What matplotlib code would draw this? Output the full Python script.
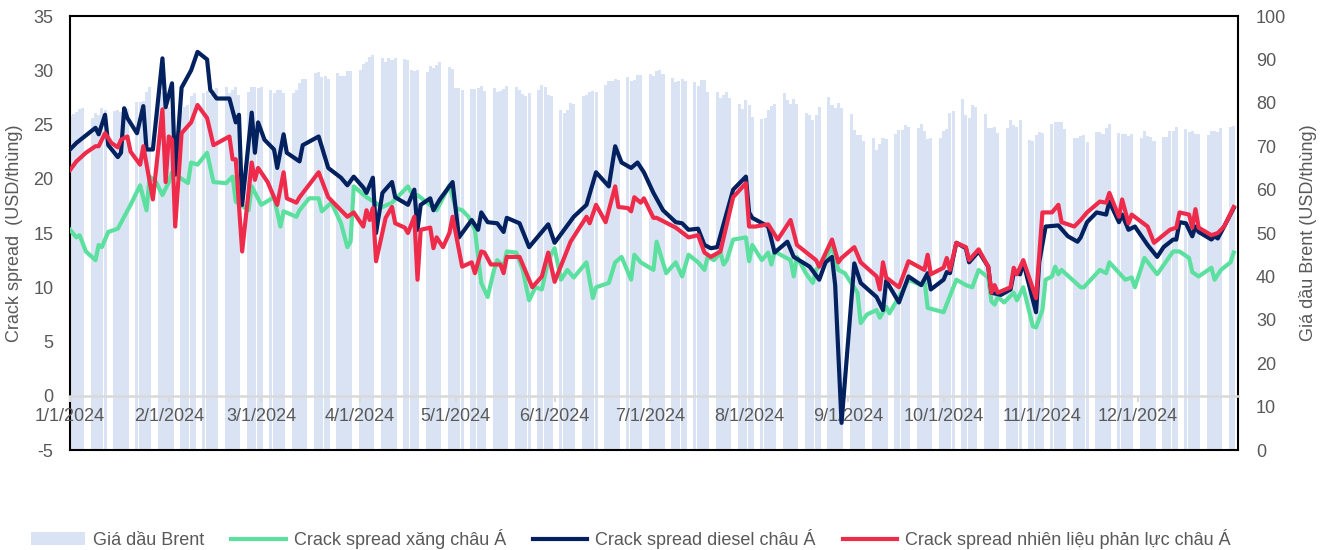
import matplotlib.pyplot as plt
import pandas as pd

plt.rcParams['font.family'] = ['Liberation Sans', 'DejaVu Sans']
plt.rcParams['axes.unicode_minus'] = False

# Brent price, one row per week (Mon..Fri), USD/barrel
brent_weeks = [
    [77.0, 77.5, 78.0, 78.6, 78.8], [76.5, 77.6, 77.2, 78.9, 78.3],
    [78.2, 78.3, 77.9, 79.1, 78.6], [80.1, 80.2, 80.5, 82.5, 83.6],
    [82.8, 82.5, 81.3, 79.0, 77.8], [78.2, 79.0, 79.5, 81.6, 82.2],
    [82.3, 82.8, 81.7, 82.9, 83.5], [83.6, 82.3, 82.9, 83.7, 81.8],
    [82.5, 83.6, 83.6, 83.4, 83.6], [82.9, 82.3, 82.9, 83.0, 82.3],
    [82.3, 82.9, 84.5, 85.4, 85.4], [86.8, 87.1, 86.0, 86.1, 85.5],
    [86.8, 86.3, 86.2, 87.3, 87.3], [87.6, 88.9, 89.3, 90.6, 91.0],
    [90.4, 89.5, 90.3, 89.8, 90.3], [90.2, 89.9, 87.6, 87.3, 87.6],
    [87.0, 88.4, 88.0, 88.8, 89.4], [88.3, 87.8, 83.4, 83.5, 83.0],
    [83.2, 83.1, 83.5, 83.9, 82.8], [83.4, 82.4, 82.8, 83.3, 83.9],
    [83.6, 82.9, 82.0, 81.5, 82.2], [83.0, 84.1, 83.6, 81.8, 81.6],
    [78.4, 77.6, 78.3, 79.9, 79.7], [81.6, 81.9, 82.5, 82.7, 82.6],
    [84.2, 85.1, 85.0, 85.6, 85.3], [86.0, 85.1, 85.3, 86.4, 86.4],
    [86.6, 86.3, 87.3, 87.6, 86.6], [85.8, 84.7, 85.1, 85.4, 85.0],
    [84.9, 83.8, 85.2, 85.2, 82.6], [82.4, 81.1, 81.7, 82.4, 81.2],
    [79.8, 78.6, 80.7, 79.5, 76.8], [76.3, 76.5, 78.3, 79.2, 79.7],
    [82.3, 80.7, 79.8, 81.0, 79.7], [77.7, 77.2, 76.1, 77.2, 79.0],
    [81.4, 79.6, 78.7, 79.9, 78.8], [77.5, 73.8, 72.7, 72.7, 71.1],
    [71.8, 69.2, 70.6, 72.0, 71.6], [72.8, 73.7, 73.7, 74.9, 74.5],
    [74.3, 75.2, 73.5, 71.6, 72.0], [71.8, 73.6, 73.9, 77.6, 78.1],
    [80.9, 77.2, 76.6, 79.4, 79.0], [77.5, 74.3, 74.2, 74.5, 73.1],
    [74.3, 76.0, 75.0, 74.4, 76.1], [71.4, 71.1, 72.6, 73.2, 73.1],
    [75.1, 75.5, 75.7, 75.6, 73.9], [71.8, 72.0, 72.3, 72.6, 71.0],
    [73.3, 73.3, 72.8, 74.2, 75.2], [73.0, 72.8, 72.8, 72.3, 72.9],
    [71.8, 73.6, 72.3, 72.1, 71.1], [72.1, 72.2, 73.5, 73.4, 74.5],
    [74.0, 73.2, 73.4, 72.9, 72.9], [72.6, 73.6, 73.6, 73.3, 74.2],
    [74.4, 74.6],
]

# Asian gasoline crack spread (USD/barrel)
gasoline_dates = [
    '01-01', '01-03', '01-04', '01-06', '01-09', '01-10', '01-11', '01-13', '01-16', '01-18',
    '01-20', '01-23', '01-25', '01-26', '01-28', '01-30', '02-01', '02-02', '02-07', '02-08',
    '02-10', '02-13', '02-15', '02-19', '02-21', '02-22', '02-26', '02-27', '03-01', '03-05',
    '03-07', '03-08', '03-12', '03-13', '03-16', '03-19', '03-20', '03-23', '03-26', '03-28',
    '03-29', '03-30', '04-03', '04-08', '04-11', '04-16', '04-18', '04-19', '04-25', '04-29',
    '05-01', '05-03', '05-05', '05-07', '05-09', '05-11', '05-13', '05-14', '05-16', '05-17',
    '05-20', '05-22', '05-24', '05-26', '05-28', '05-30', '06-01', '06-03', '06-05', '06-07',
    '06-11', '06-13', '06-14', '06-18', '06-20', '06-22', '06-25', '06-26', '06-28', '07-02',
    '07-03', '07-06', '07-09', '07-11', '07-13', '07-16', '07-18', '07-19', '07-21', '07-23',
    '07-24', '07-25', '07-27', '07-31', '08-01', '08-02', '08-05', '08-07', '08-08', '08-09',
    '08-14', '08-15', '08-16', '08-19', '08-21', '08-22', '08-25', '08-27', '08-29', '08-31',
    '09-04', '09-05', '09-07', '09-10', '09-11', '09-13', '09-14', '09-17', '09-20', '09-24',
    '09-25', '09-26', '10-01', '10-05', '10-08', '10-10', '10-12', '10-15', '10-16', '10-17',
    '10-18', '10-20', '10-23', '10-24', '10-26', '10-29', '10-30', '11-01', '11-02', '11-04',
    '11-05', '11-06', '11-07', '11-13', '11-14', '11-19', '11-21', '11-22', '11-27', '11-29',
    '11-30', '12-03', '12-07', '12-12', '12-14', '12-17', '12-18', '12-20', '12-24', '12-25',
    '12-27', '12-30', '12-31',
]
gasoline = [
    15.3, 14.6, 14.8, 13.3, 12.5, 13.9, 13.7, 15.1, 15.4, 16.5,
    17.6, 19.4, 17.1, 20.2, 19.7, 18.5, 19.7, 20.6, 19.6, 21.5,
    21.3, 22.4, 19.7, 19.6, 20.2, 17.9, 17.1, 19.3, 17.6, 18.3,
    15.6, 17.0, 16.5, 17.1, 18.2, 18.2, 17.0, 17.8, 15.9, 13.7,
    14.2, 19.3, 18.3, 17.4, 17.8, 19.3, 18.2, 18.5, 17.1, 19.4,
    17.3, 17.1, 16.5, 15.3, 10.4, 9.1, 11.6, 12.5, 11.9, 13.3,
    13.2, 11.6, 8.8, 10.0, 9.8, 12.5, 13.6, 10.7, 11.6, 10.9,
    12.3, 9.0, 10.0, 10.4, 12.3, 12.8, 10.7, 13.0, 12.3, 11.6,
    14.2, 11.3, 12.3, 11.0, 13.0, 12.3, 11.6, 12.8, 12.5, 13.2,
    12.1, 12.5, 14.4, 14.6, 12.4, 13.9, 12.5, 13.2, 12.1, 13.3,
    12.5, 11.0, 12.8, 11.2, 10.4, 11.6, 12.7, 13.7, 11.6, 11.3,
    9.5, 6.7, 7.5, 7.9, 7.2, 8.2, 7.6, 9.1, 10.7, 10.2,
    10.7, 8.1, 7.7, 10.7, 10.2, 10.0, 11.6, 10.9, 8.7, 8.4,
    9.1, 8.6, 9.5, 8.8, 10.0, 6.4, 6.3, 7.9, 10.7, 11.0,
    11.9, 11.2, 11.6, 10.0, 10.0, 11.6, 11.3, 12.3, 10.7, 10.9,
    10.0, 12.7, 11.2, 13.3, 13.3, 12.7, 11.4, 11.0, 11.8, 10.7,
    11.6, 12.3, 13.2,
]

# Asian diesel crack spread (USD/barrel)
diesel_dates = [
    '01-01', '01-03', '01-09', '01-10', '01-12', '01-13', '01-16', '01-17', '01-18', '01-19',
    '01-22', '01-24', '01-25', '01-27', '01-30', '01-31', '02-02', '02-03', '02-05', '02-08',
    '02-10', '02-13', '02-14', '02-16', '02-20', '02-22', '02-23', '02-24', '02-27', '02-28',
    '02-29', '03-02', '03-05', '03-06', '03-08', '03-09', '03-12', '03-13', '03-14', '03-19',
    '03-22', '03-26', '03-28', '03-30', '04-02', '04-03', '04-05', '04-06', '04-08', '04-11',
    '04-12', '04-16', '04-18', '04-19', '04-20', '04-23', '04-24', '04-26', '04-30', '05-02',
    '05-06', '05-08', '05-09', '05-11', '05-14', '05-16', '05-17', '05-21', '05-24', '05-30',
    '06-01', '06-07', '06-11', '06-14', '06-18', '06-20', '06-22', '06-25', '06-27', '06-29',
    '07-02', '07-05', '07-09', '07-11', '07-13', '07-16', '07-18', '07-20', '07-22', '07-25',
    '07-27', '07-31', '08-01', '08-02', '08-07', '08-09', '08-13', '08-15', '08-20', '08-23',
    '08-25', '08-27', '08-28', '08-30', '09-03', '09-05', '09-10', '09-12', '09-13', '09-17',
    '09-20', '09-24', '09-26', '09-27', '10-01', '10-02', '10-03', '10-05', '10-08', '10-09',
    '10-12', '10-15', '10-16', '10-19', '10-22', '10-23', '10-25', '10-26', '10-30', '10-31',
    '11-02', '11-06', '11-09', '11-12', '11-13', '11-15', '11-18', '11-21', '11-22', '11-25',
    '11-26', '11-28', '11-30', '12-04', '12-07', '12-09', '12-12', '12-13', '12-14', '12-16',
    '12-18', '12-19', '12-20', '12-24', '12-25', '12-26', '12-28', '12-31',
]
diesel = [
    22.7, 23.3, 24.7, 24.1, 25.9, 23.1, 22.0, 22.4, 26.5, 25.6,
    24.2, 26.7, 22.7, 22.7, 31.1, 26.6, 28.8, 20.4, 28.4, 30.0,
    31.7, 31.0, 28.2, 27.4, 27.4, 25.2, 25.9, 17.6, 26.1, 22.4,
    25.2, 23.6, 22.7, 21.0, 24.1, 22.4, 21.8, 21.6, 23.1, 23.9,
    21.0, 20.1, 19.4, 20.2, 19.2, 18.7, 20.1, 15.0, 18.7, 19.7,
    18.3, 17.6, 19.0, 15.3, 17.6, 18.2, 17.1, 18.1, 19.7, 14.6,
    16.2, 15.3, 16.9, 16.0, 15.9, 15.1, 16.4, 15.9, 13.7, 15.8,
    14.1, 16.5, 17.6, 20.6, 19.3, 23.0, 21.5, 21.0, 21.5, 20.6,
    18.7, 17.1, 16.0, 15.9, 15.3, 15.4, 13.9, 13.6, 13.7, 16.9,
    19.0, 20.2, 16.9, 16.4, 15.6, 13.2, 14.2, 12.8, 11.9, 10.7,
    12.3, 12.8, 10.2, -2.5, 12.2, 10.4, 9.1, 7.9, 10.6, 8.6,
    11.0, 10.2, 11.3, 9.8, 10.7, 11.4, 11.3, 14.1, 13.6, 12.3,
    13.3, 11.9, 9.5, 9.3, 9.8, 11.3, 11.2, 12.3, 7.7, 12.3,
    15.6, 15.7, 14.7, 14.2, 14.6, 16.0, 16.9, 16.7, 17.9, 16.0,
    16.7, 15.3, 15.6, 13.9, 12.8, 13.7, 14.4, 14.4, 16.0, 15.9,
    14.7, 15.6, 15.1, 14.4, 14.7, 14.5, 15.6, 17.3,
]

# Asian jet fuel crack spread (USD/barrel)
jet_dates = [
    '01-01', '01-03', '01-06', '01-09', '01-10', '01-12', '01-14', '01-16', '01-17', '01-19',
    '01-20', '01-23', '01-24', '01-27', '01-30', '01-31', '02-01', '02-02', '02-03', '02-05',
    '02-08', '02-10', '02-13', '02-15', '02-20', '02-21', '02-22', '02-24', '02-27', '02-28',
    '02-29', '03-03', '03-06', '03-08', '03-09', '03-12', '03-13', '03-19', '03-22', '03-28',
    '03-30', '04-02', '04-03', '04-04', '04-05', '04-06', '04-09', '04-11', '04-12', '04-15',
    '04-16', '04-18', '04-19', '04-20', '04-23', '04-24', '04-25', '04-27', '04-29', '04-30',
    '05-03', '05-06', '05-07', '05-09', '05-10', '05-12', '05-15', '05-16', '05-17', '05-21',
    '05-25', '05-28', '05-30', '06-01', '06-06', '06-11', '06-12', '06-14', '06-17', '06-20',
    '06-21', '06-24', '06-25', '06-26', '06-28', '06-29', '07-02', '07-03', '07-09', '07-13',
    '07-16', '07-18', '07-20', '07-23', '07-27', '07-31', '08-01', '08-03', '08-07', '08-10',
    '08-14', '08-16', '08-22', '08-23', '08-27', '08-29', '08-30', '09-03', '09-05', '09-10',
    '09-11', '09-12', '09-13', '09-17', '09-20', '09-25', '09-26', '09-27', '10-01', '10-02',
    '10-03', '10-05', '10-08', '10-09', '10-12', '10-15', '10-16', '10-17', '10-18', '10-22',
    '10-23', '10-24', '10-26', '10-30', '11-01', '11-04', '11-06', '11-07', '11-11', '11-13',
    '11-15', '11-19', '11-21', '11-22', '11-25', '11-26', '11-28', '11-29', '12-04', '12-06',
    '12-11', '12-13', '12-14', '12-17', '12-18', '12-19', '12-20', '12-24', '12-26', '12-28',
    '12-31',
]
jet = [
    20.8, 21.6, 22.4, 23.0, 23.0, 24.2, 23.3, 22.9, 23.6, 23.9,
    22.5, 21.3, 23.0, 18.1, 26.4, 19.7, 23.9, 23.6, 15.6, 24.2,
    25.2, 26.8, 25.6, 23.1, 23.9, 21.8, 21.8, 13.3, 21.5, 19.9,
    21.0, 19.7, 17.6, 20.6, 18.2, 17.8, 18.3, 20.6, 18.3, 16.5,
    16.9, 15.6, 17.1, 16.2, 17.3, 12.4, 16.4, 17.4, 15.9, 15.5,
    15.0, 16.5, 10.7, 15.3, 15.5, 13.6, 14.6, 13.7, 15.0, 16.5,
    11.9, 12.3, 11.3, 13.3, 13.2, 12.1, 12.1, 11.3, 12.8, 12.8,
    10.0, 11.0, 13.2, 10.5, 14.2, 16.5, 15.9, 17.6, 16.0, 19.3,
    17.4, 17.3, 17.0, 18.3, 17.8, 18.2, 16.4, 16.4, 15.5, 14.6,
    14.8, 13.2, 12.8, 13.3, 18.3, 19.6, 15.6, 15.6, 15.8, 14.4,
    16.2, 13.9, 12.5, 11.9, 14.4, 12.3, 12.7, 13.7, 12.3, 11.0,
    9.8, 12.3, 10.9, 10.0, 12.4, 11.6, 13.0, 11.2, 11.8, 12.7,
    11.6, 14.1, 13.7, 12.5, 13.5, 11.9, 9.5, 10.2, 9.5, 10.0,
    11.8, 11.2, 12.5, 9.0, 16.9, 16.9, 17.6, 16.0, 15.6, 16.2,
    16.9, 17.9, 17.8, 18.7, 16.5, 18.1, 15.9, 16.7, 15.6, 14.1,
    15.3, 15.5, 16.9, 16.7, 15.5, 17.2, 15.5, 14.8, 15.0, 15.6,
    17.4,
]

legend_labels = ['Giá dầu Brent', 'Crack spread xăng châu Á',
                 'Crack spread diesel châu Á', 'Crack spread nhiên liệu phản lực châu Á']

brent = [v for week in brent_weeks for v in week]
brent_days = pd.bdate_range('2024-01-01', '2024-12-31')


def to_dates(md):
    return pd.to_datetime(['2024-' + s for s in md])


text_gray = '#595959'

fig = plt.figure(figsize=(13.28, 5.5), dpi=100)
ax_b = fig.add_axes([0.0527, 0.1818, 0.8795, 0.789])

bars = ax_b.bar(brent_days, brent, width=0.95, color='#DAE3F3', linewidth=0, label=legend_labels[0])
ax_b.set_ylim(0, 100)
ax_b.set_yticks(range(0, 101, 10))
ax_b.set_xlim(pd.Timestamp('2024-01-01'), pd.Timestamp('2025-01-01 08:00'))

# crack spreads on the left scale, drawn above the bars
ax_l = ax_b.twinx()
ax_l.yaxis.tick_left()
ax_l.yaxis.set_label_position('left')
ax_b.yaxis.tick_right()
ax_b.yaxis.set_label_position('right')

l1, = ax_l.plot(to_dates(gasoline_dates), gasoline, color='#5CE09F', lw=3.0, zorder=3,
                solid_joinstyle='round', label=legend_labels[1])
l2, = ax_l.plot(to_dates(diesel_dates), diesel, color='#04215F', lw=3.0, zorder=4,
                solid_joinstyle='round', label=legend_labels[2])
l3, = ax_l.plot(to_dates(jet_dates), jet, color='#EE2B4B', lw=3.0, zorder=5,
                solid_joinstyle='round', label=legend_labels[3])
ax_l.set_ylim(-5, 35)
ax_l.set_yticks(range(-5, 36, 5))

# date axis sits on the zero line of the crack spread scale
ax_l.xaxis.set_visible(True)
ax_l.spines['bottom'].set_position(('data', 0))
ax_l.spines['bottom'].set_color('#D9D9D9')
ax_l.spines['bottom'].set_linewidth(1.8)
for side in ['left', 'right', 'top']:
    ax_l.spines[side].set_visible(False)
months = pd.date_range('2024-01-01', '2024-12-01', freq='MS')
ax_l.set_xticks(months, [f'{d.month}/{d.day}/{d.year}' for d in months])
ax_l.tick_params(axis='x', length=4, width=1.5, color='#D9D9D9', direction='out', pad=5,
                 labelsize=13, labelcolor=text_gray)
ax_b.tick_params(axis='x', bottom=False, labelbottom=False)

for side in ['left', 'right', 'top', 'bottom']:
    ax_b.spines[side].set_color('black')
    ax_b.spines[side].set_linewidth(1.5)

ax_l.tick_params(axis='y', length=0, pad=12, labelsize=13, labelcolor=text_gray)
ax_b.tick_params(axis='y', length=0, pad=13, labelsize=13, labelcolor=text_gray)

ax_l.set_ylabel('Crack spread  (USD/thùng)', fontsize=13, color=text_gray, labelpad=7)
ax_b.set_ylabel('Giá dầu Brent (USD/thùng)', fontsize=13, color=text_gray, labelpad=9)

fig.legend([bars, l1, l2, l3], legend_labels, loc='center', bbox_to_anchor=(0.475, 0.02),
           ncol=4, frameon=False, fontsize=13, handlelength=3, handletextpad=0.45,
           columnspacing=1.5, labelcolor=text_gray)

fig.savefig('out.png', dpi=100)
